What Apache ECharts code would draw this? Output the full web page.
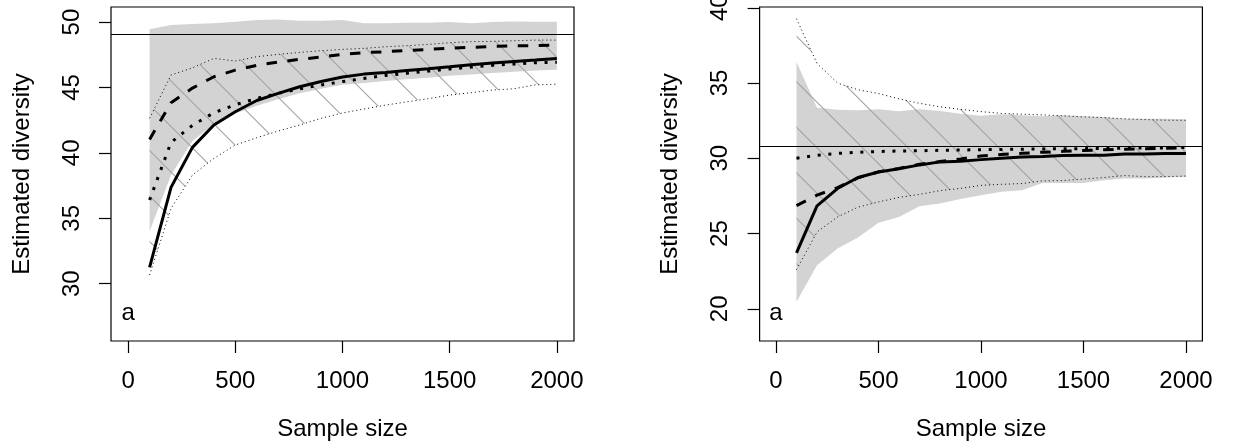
<!DOCTYPE html>
<html><head><meta charset="utf-8">
<script src="https://cdn.jsdelivr.net/npm/echarts@6/dist/echarts.min.js"></script>
<style>html,body{margin:0;padding:0;background:#fff}#c{width:1246px;height:446px}</style>
</head><body><div id="c"></div>
<script>
const sampleSizes = [100,200,300,400,500,600,700,800,900,1000,1100,1200,1300,1400,1500,1600,1700,1800,1900,2000];
const xTicks = [0,500,1000,1500,2000];
const leftYTicks = [30,35,40,45,50];
const rightYTicks = [20,25,30,35,40];

// Left panel
const leftSolid  = [31.24,37.36,40.42,42.13,43.14,44.0,44.55,45.05,45.45,45.8,46.02,46.15,46.3,46.43,46.58,46.74,46.87,46.99,47.09,47.22];
const leftDashed = [41.03,43.83,44.95,45.82,46.33,46.69,46.94,47.15,47.32,47.53,47.66,47.73,47.83,47.91,48.01,48.06,48.14,48.19,48.19,48.24];
const leftDotted = [36.4,40.8,42.1,43.07,43.68,44.16,44.55,44.9,45.18,45.45,45.69,45.92,46.08,46.25,46.41,46.56,46.69,46.79,46.89,46.92];
const leftGreyLow  = [34.0,38.3,40.9,42.2,43.0,43.6,44.1,44.55,44.9,45.2,45.35,45.5,45.62,45.75,45.9,46.0,46.1,46.2,46.3,46.35];
const leftGreyHigh = [49.44,49.77,49.85,49.9,50.03,50.15,50.2,50.1,50.1,50.15,49.9,49.9,49.95,49.95,50.0,49.9,50.0,50.05,50.03,50.03];
const leftHatchLow  = [30.66,35.75,38.3,39.58,40.6,41.16,41.67,42.13,42.64,43.05,43.35,43.65,43.9,44.14,44.42,44.6,44.8,44.9,45.2,45.25];
const leftHatchHigh = [42.64,45.95,46.5,47.22,47.02,47.35,47.53,47.68,47.81,47.91,47.99,48.11,48.19,48.29,48.42,48.5,48.52,48.57,48.62,48.62];
const leftReference = 49.08;

// Right panel
const rightSolid  = [23.72,26.84,27.99,28.72,29.09,29.31,29.56,29.76,29.8,29.91,30.0,30.09,30.11,30.18,30.2,30.2,30.29,30.29,30.31,30.31];
const rightDashed = [26.85,27.55,28.05,28.7,29.1,29.33,29.6,29.78,29.95,30.15,30.25,30.33,30.4,30.46,30.52,30.56,30.6,30.63,30.66,30.69];
const rightDotted = [30.0,30.2,30.32,30.4,30.45,30.48,30.5,30.53,30.55,30.57,30.59,30.6,30.62,30.63,30.64,30.65,30.67,30.68,30.69,30.72];
const rightGreyLow  = [20.46,22.9,24.0,24.73,25.71,26.1,26.81,26.99,27.3,27.54,27.77,27.88,28.36,28.36,28.36,28.54,28.65,28.65,28.72,28.76];
const rightGreyHigh = [36.39,33.36,33.23,33.19,33.25,33.12,33.25,33.14,32.96,32.82,32.92,32.85,32.79,32.85,32.79,32.74,32.63,32.63,32.63,32.59];
const rightHatchLow  = [22.6,25.1,26.1,26.75,27.1,27.4,27.6,27.85,28.0,28.2,28.27,28.32,28.5,28.52,28.62,28.72,28.85,28.78,28.78,28.82];
const rightHatchHigh = [39.27,36.3,35.0,34.55,34.3,33.95,33.65,33.42,33.25,33.1,32.98,32.93,32.88,32.82,32.75,32.7,32.62,32.57,32.53,32.52];
const rightReference = 30.82;

const panelLabel = 'a';
const leftLabelPos = [0, 27.75];
const rightLabelPos = [0, 19.7];

const FONT = '"Liberation Sans", Arial, Helvetica, sans-serif';

function hatchTile(phase) {
  const s = 91, step = 45.5;
  const c = document.createElement('canvas');
  c.width = s; c.height = s;
  const g = c.getContext('2d');
  g.strokeStyle = '#a2a2a2';
  g.lineWidth = 1.1;
  for (let k = -4; k <= 3; k++) {
    const b = phase + k * step;
    g.beginPath(); g.moveTo(-2, b - 2); g.lineTo(s + 2, b + s + 2); g.stroke();
  }
  return c;
}

// data items are [y, x]; encode maps them so that stacking acts on y
const pts = ys => sampleSizes.map((x, i) => [ys[i], x]);
const diff = (hi, lo) => sampleSizes.map((x, i) => [+(hi[i] - lo[i]).toFixed(4), x]);

function panelSeries(p, d) {
  const base = {type: 'line', xAxisIndex: p, yAxisIndex: p, showSymbol: false, symbol: 'none', silent: true,
    animation: false, encode: {x: 1, y: 0}, dimensions: ['val', 'size']};
  const thin = {color: '#000', width: 1, type: [1, 3]};
  return [
    Object.assign({}, base, {stack: 'grey' + p, data: pts(d.greyLow), lineStyle: {opacity: 0}}),
    Object.assign({}, base, {stack: 'grey' + p, data: diff(d.greyHigh, d.greyLow), lineStyle: {opacity: 0}, areaStyle: {color: '#d3d3d3', opacity: 1}}),
    Object.assign({}, base, {stack: 'hatch' + p, data: pts(d.hatchLow), lineStyle: thin}),
    Object.assign({}, base, {stack: 'hatch' + p, data: diff(d.hatchHigh, d.hatchLow), lineStyle: thin,
      areaStyle: {color: {image: hatchTile(d.phase), repeat: 'repeat'}, opacity: 1}}),
    Object.assign({}, base, {data: pts(d.solid), lineStyle: {color: '#000', width: 3}}),
    Object.assign({}, base, {data: pts(d.dashed), lineStyle: {color: '#000', width: 3, type: [10.5, 10.5]}}),
    Object.assign({}, base, {data: pts(d.dotted), lineStyle: {color: '#000', width: 3, type: [3, 7.7]},
      markLine: {silent: true, symbol: ['none', 'none'], label: {show: false}, animation: false,
        lineStyle: {color: '#000', width: 1.2, type: 'solid'}, data: [{yAxis: d.ref}]}})
  ];
}

const fmt = v => String(v);
function xAxis(p) {
  return {gridIndex: p, type: 'value', min: -80, max: 2080,
    axisLine: {show: false, onZero: false}, splitLine: {show: false},
    axisTick: {show: true, length: 12, customValues: xTicks, lineStyle: {color: '#000', width: 1.2}},
    axisLabel: {customValues: xTicks, formatter: fmt, margin: 28, fontSize: 24, color: '#000', fontFamily: FONT},
    name: 'Sample size', nameLocation: 'middle', nameGap: 76,
    nameTextStyle: {fontSize: 24, color: '#000', fontFamily: FONT}};
}
function yAxis(p, min, max, ticks) {
  return {gridIndex: p, type: 'value', min: min, max: max,
    axisLine: {show: false, onZero: false}, splitLine: {show: false},
    axisTick: {show: true, length: 12, customValues: ticks, lineStyle: {color: '#000', width: 1.2}},
    axisLabel: {customValues: ticks, formatter: fmt, rotate: 90, margin: 27, fontSize: 24, color: '#000', fontFamily: FONT},
    name: 'Estimated diversity', nameLocation: 'middle', nameGap: 77,
    nameTextStyle: {fontSize: 24, color: '#000', fontFamily: FONT}};
}

const chart = echarts.init(document.getElementById('c'), null, {renderer: 'canvas'});
chart.setOption({
  animation: false,
  backgroundColor: '#fff',
  textStyle: {fontFamily: FONT},
  grid: [
    {left: 111, right: 672, top: 7, bottom: 105, show: true, borderColor: '#000', borderWidth: 1.2,
      backgroundColor: 'transparent', containLabel: false, outerBoundsMode: 'none'},
    {left: 759.6, right: 43.6, top: 7, bottom: 105, show: true, borderColor: '#000', borderWidth: 1.2,
      backgroundColor: 'transparent', containLabel: false, outerBoundsMode: 'none'}
  ],
  xAxis: [xAxis(0), xAxis(1)],
  yAxis: [yAxis(0, 25.62, 51.15, leftYTicks), yAxis(1, 17.86, 40.05, rightYTicks)],
  series: [].concat(
    panelSeries(0, {solid: leftSolid, dashed: leftDashed, dotted: leftDotted, greyLow: leftGreyLow, greyHigh: leftGreyHigh,
      hatchLow: leftHatchLow, hatchHigh: leftHatchHigh, ref: leftReference, phase: 1}),
    panelSeries(1, {solid: rightSolid, dashed: rightDashed, dotted: rightDotted, greyLow: rightGreyLow, greyHigh: rightGreyHigh,
      hatchLow: rightHatchLow, hatchHigh: rightHatchHigh, ref: rightReference, phase: 13.3})
  )
});

const pL = chart.convertToPixel({gridIndex: 0}, leftLabelPos);
const pR = chart.convertToPixel({gridIndex: 1}, rightLabelPos);
chart.setOption({
  graphic: [pL, pR].map(p => ({type: 'text', x: p[0], y: p[1], silent: true,
    style: {text: panelLabel, fontSize: 24, fontFamily: FONT, fill: '#000', align: 'center', verticalAlign: 'middle'}}))
});
</script>
</body></html>
